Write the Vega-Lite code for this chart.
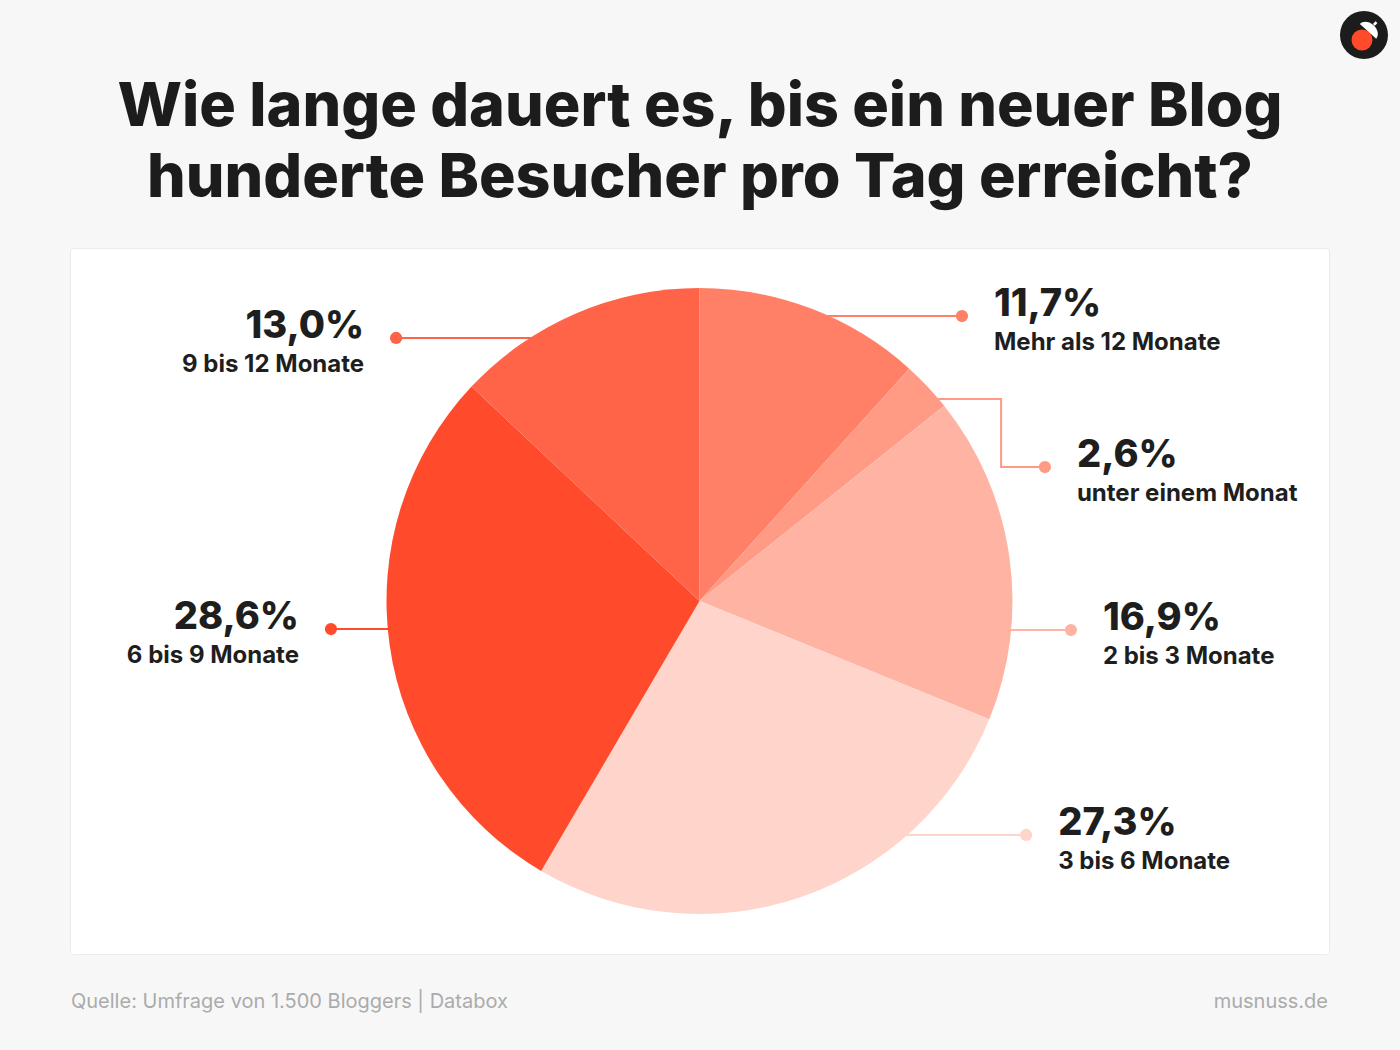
{
  "$schema": "https://vega.github.io/schema/vega-lite/v6.json",
  "width": 1259,
  "height": 706,
  "autosize": {"type": "none"},
  "padding": {"left": 70, "top": 248, "right": 71, "bottom": 96},
  "background": "#f7f7f7",
  "view": {"fill": "#ffffff", "stroke": "#ebebeb", "strokeWidth": 1, "cornerRadius": 3},
  "config": {
    "view": {"fill": "#ffffff", "stroke": "#ebebeb", "strokeWidth": 1},
    "font": "Inter"
  },
  "datasets": {
    "slices": [
      {"kategorie": "Mehr als 12 Monate", "anteil": 11.7, "reihenfolge": 1},
      {"kategorie": "unter einem Monat", "anteil": 2.6, "reihenfolge": 2},
      {"kategorie": "2 bis 3 Monate", "anteil": 16.9, "reihenfolge": 3},
      {"kategorie": "3 bis 6 Monate", "anteil": 27.3, "reihenfolge": 4},
      {"kategorie": "6 bis 9 Monate", "anteil": 28.6, "reihenfolge": 5},
      {"kategorie": "9 bis 12 Monate", "anteil": 13.0, "reihenfolge": 6}
    ],
    "labels": [
      {"kategorie": "Mehr als 12 Monate", "wert": "11,7%", "seite": "rechts", "x": 0.837, "y": 0.9105},
      {"kategorie": "unter einem Monat", "wert": "2,6%", "seite": "rechts", "x": 1.102, "y": 0.4281},
      {"kategorie": "2 bis 3 Monate", "wert": "16,9%", "seite": "rechts", "x": 1.185, "y": -0.0927},
      {"kategorie": "3 bis 6 Monate", "wert": "27,3%", "seite": "rechts", "x": 1.042, "y": -0.7476},
      {"kategorie": "6 bis 9 Monate", "wert": "28,6%", "seite": "links", "x": -1.179, "y": -0.0895},
      {"kategorie": "9 bis 12 Monate", "wert": "13,0%", "seite": "links", "x": -0.971, "y": 0.8403}
    ],
    "leader": [
      {"kategorie": "Mehr als 12 Monate", "schritt": 1, "x": 0.192, "y": 0.9105},
      {"kategorie": "Mehr als 12 Monate", "schritt": 2, "x": 0.837, "y": 0.9105},
      {"kategorie": "unter einem Monat", "schritt": 1, "x": 0.639, "y": 0.6454},
      {"kategorie": "unter einem Monat", "schritt": 2, "x": 0.962, "y": 0.6454},
      {"kategorie": "unter einem Monat", "schritt": 3, "x": 0.962, "y": 0.4281},
      {"kategorie": "unter einem Monat", "schritt": 4, "x": 1.102, "y": 0.4281},
      {"kategorie": "2 bis 3 Monate", "schritt": 1, "x": 0.799, "y": -0.0927},
      {"kategorie": "2 bis 3 Monate", "schritt": 2, "x": 1.185, "y": -0.0927},
      {"kategorie": "3 bis 6 Monate", "schritt": 1, "x": 0.479, "y": -0.7476},
      {"kategorie": "3 bis 6 Monate", "schritt": 2, "x": 1.042, "y": -0.7476},
      {"kategorie": "6 bis 9 Monate", "schritt": 1, "x": -0.799, "y": -0.0895},
      {"kategorie": "6 bis 9 Monate", "schritt": 2, "x": -1.179, "y": -0.0895},
      {"kategorie": "9 bis 12 Monate", "schritt": 1, "x": -0.319, "y": 0.8403},
      {"kategorie": "9 bis 12 Monate", "schritt": 2, "x": -0.971, "y": 0.8403}
    ],
    "titel": [
      {"zeile": "Wie lange dauert es, bis ein neuer Blog", "y": 1.5176},
      {"zeile": "hunderte Besucher pro Tag erreicht?", "y": 1.2907}
    ]
  },
  "resolve": {"scale": {"x": "shared", "y": "shared", "color": "shared"}},
  "layer": [
    {
      "data": {"name": "leader"},
      "mark": {"type": "line", "strokeWidth": 2, "interpolate": "linear"},
      "encoding": {
        "x": {"field": "x", "type": "quantitative", "scale": {"domain": [-2.0128, 2.0096], "nice": false, "zero": false}, "axis": null},
        "y": {"field": "y", "type": "quantitative", "scale": {"domain": [-1.1278, 1.1278], "nice": false, "zero": false}, "axis": null},
        "order": {"field": "schritt"},
        "color": {
          "field": "kategorie", "type": "nominal", "legend": null,
          "scale": {
            "domain": ["Mehr als 12 Monate", "unter einem Monat", "2 bis 3 Monate", "3 bis 6 Monate", "6 bis 9 Monate", "9 bis 12 Monate"],
            "range": ["#ff8066", "#ff9a85", "#ffb4a3", "#ffd4cb", "#ff4a2b", "#ff6449"]
          }
        }
      }
    },
    {
      "data": {"name": "slices"},
      "mark": {"type": "arc", "outerRadius": 313},
      "encoding": {
        "theta": {"field": "anteil", "type": "quantitative", "stack": true},
        "order": {"field": "reihenfolge", "type": "quantitative"},
        "color": {"field": "kategorie", "type": "nominal", "legend": null}
      }
    },
    {
      "data": {"name": "labels"},
      "mark": {"type": "point", "filled": true, "opacity": 1, "size": 150},
      "encoding": {
        "x": {"field": "x", "type": "quantitative"},
        "y": {"field": "y", "type": "quantitative"},
        "color": {"field": "kategorie", "type": "nominal", "legend": null}
      }
    },
    {
      "data": {"name": "labels"},
      "transform": [{"filter": "datum.seite === 'rechts'"}],
      "mark": {"type": "text", "align": "left", "baseline": "alphabetic", "dx": 32, "fontSize": 38, "fontWeight": 800, "color": "#1e1e1e"},
      "encoding": {
        "x": {"field": "x", "type": "quantitative"},
        "y": {"field": "y", "type": "quantitative"},
        "text": {"field": "wert"}
      }
    },
    {
      "data": {"name": "labels"},
      "transform": [{"filter": "datum.seite === 'rechts'"}],
      "mark": {"type": "text", "align": "left", "baseline": "alphabetic", "dx": 32, "dy": 34, "fontSize": 24, "fontWeight": 700, "letterSpacing": 0.6, "color": "#1e1e1e"},
      "encoding": {
        "x": {"field": "x", "type": "quantitative"},
        "y": {"field": "y", "type": "quantitative"},
        "text": {"field": "kategorie"}
      }
    },
    {
      "data": {"name": "labels"},
      "transform": [{"filter": "datum.seite === 'links'"}],
      "mark": {"type": "text", "align": "right", "baseline": "alphabetic", "dx": -32, "fontSize": 38, "fontWeight": 800, "color": "#1e1e1e"},
      "encoding": {
        "x": {"field": "x", "type": "quantitative"},
        "y": {"field": "y", "type": "quantitative"},
        "text": {"field": "wert"}
      }
    },
    {
      "data": {"name": "labels"},
      "transform": [{"filter": "datum.seite === 'links'"}],
      "mark": {"type": "text", "align": "right", "baseline": "alphabetic", "dx": -32, "dy": 34, "fontSize": 24, "fontWeight": 700, "letterSpacing": 0.6, "color": "#1e1e1e"},
      "encoding": {
        "x": {"field": "x", "type": "quantitative"},
        "y": {"field": "y", "type": "quantitative"},
        "text": {"field": "kategorie"}
      }
    },
    {
      "data": {"name": "titel"},
      "mark": {"type": "text", "align": "center", "baseline": "alphabetic", "fontSize": 61, "fontWeight": 800, "letterSpacing": 0.7, "color": "#1c1c1c"},
      "encoding": {
        "x": {"datum": 0, "type": "quantitative"},
        "y": {"field": "y", "type": "quantitative"},
        "text": {"field": "zeile"}
      }
    },
    {
      "data": {"values": [{}]},
      "mark": {"type": "text", "text": "Quelle: Umfrage von 1.500 Bloggers | Databox", "align": "left", "baseline": "alphabetic", "fontSize": 20, "fontWeight": 400, "color": "#ababab"},
      "encoding": {
        "x": {"datum": -2.0096, "type": "quantitative"},
        "y": {"datum": -1.3003, "type": "quantitative"}
      }
    },
    {
      "data": {"values": [{}]},
      "mark": {"type": "text", "text": "musnuss.de", "align": "right", "baseline": "alphabetic", "fontSize": 20, "fontWeight": 400, "color": "#ababab"},
      "encoding": {
        "x": {"datum": 2.0064, "type": "quantitative"},
        "y": {"datum": -1.3003, "type": "quantitative"}
      }
    },
    {
      "data": {"values": [{}]},
      "mark": {"type": "point", "shape": "circle", "filled": true, "opacity": 1, "size": 2304, "color": "#1c1c1c"},
      "encoding": {
        "x": {"datum": 2.1214, "type": "quantitative"},
        "y": {"datum": 1.8083, "type": "quantitative"}
      }
    },
    {
      "data": {"values": [{}]},
      "mark": {"type": "point", "shape": "circle", "filled": true, "opacity": 1, "size": 440, "color": "#ff4a2b"},
      "encoding": {
        "x": {"datum": 2.1150, "type": "quantitative"},
        "y": {"datum": 1.7923, "type": "quantitative"}
      }
    },
    {
      "data": {"values": [{}]},
      "mark": {"type": "point", "shape": "M -1 0.2 A 1 0.75 0 0 1 1 0.2 Z M -0.12 -0.6 L 0.12 -0.6 L 0.12 -0.95 L -0.12 -0.95 Z", "angle": 42, "filled": true, "opacity": 1, "size": 480, "color": "#ffffff"},
      "encoding": {
        "x": {"datum": 2.1390, "type": "quantitative"},
        "y": {"datum": 1.8250, "type": "quantitative"}
      }
    }
  ]
}
